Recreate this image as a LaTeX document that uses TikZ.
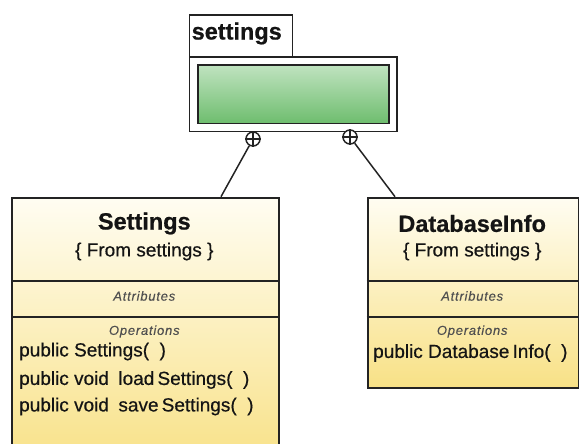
\documentclass[tikz,border=0pt]{standalone}
\usepackage{fontspec}
\setmainfont{Liberation Sans}[FakeBold=0.6]
\newfontfamily\plainfont{Liberation Sans}[FakeBold=0.5]
\newfontfamily\compfont{Liberation Sans}[LetterSpace=6.0,FakeBold=0.3]
\definecolor{clsTop}{RGB}{255,253,242}
\definecolor{clsBot}{RGB}{248,225,134}
\definecolor{pkgTop}{RGB}{192,227,192}
\definecolor{pkgBot}{RGB}{110,189,110}
\definecolor{edge}{RGB}{35,35,35}
\definecolor{ink}{RGB}{20,20,20}
\definecolor{faint}{RGB}{80,80,80}
\begin{document}
\begin{tikzpicture}[x=1pt,y=-1pt,
  box/.style={rectangle, draw=edge, line width=1.8pt, inner sep=0pt, anchor=north west},
  classbox/.style={box, top color=clsTop, bottom color=clsBot},
  title/.style={font=\fontsize{23.5}{26}\selectfont\bfseries, text=ink, inner sep=0pt},
  body/.style={font=\fontsize{19}{22}\selectfont\plainfont, text=ink, inner sep=0pt},
  section/.style={font=\fontsize{13}{15}\selectfont\compfont\itshape, text=faint, inner sep=0pt},
  member/.style={body, anchor=west},
  divider/.style={draw=edge, line width=1.8pt},
  ownership/.style={circle, draw=edge, fill=white, line width=1.5pt, minimum size=14pt, inner sep=0pt},
  link/.style={draw=edge, line width=1.5pt}]
\useasboundingbox (0,0) rectangle (579,444);
\clip (0,0) rectangle (579,444);

% package "settings"
\node[box, fill=white, minimum width=103pt, minimum height=42pt] (pkgtab) at (188.5,14) {};
\node[title, anchor=west] (pkgname) at (191.5,33.5) {settings};
\node[box, fill=white, minimum width=207.2pt, minimum height=74.7pt] (pkg) at (188.5,56) {};
\node[box, top color=pkgTop, bottom color=pkgBot,
      minimum width=191.6pt, minimum height=58.7pt] (pkgin) at (196.7,64) {};

% class Settings
\node[classbox, minimum width=266.7pt, minimum height=270pt] (clsA) at (11,196.7) {};
\draw[divider] (11,280.7) -- (277.7,280.7);
\draw[divider] (11,317) -- (277.7,317);
\node[title] (clsAname) at (144.3,223.5) {Settings};
\node[body] (clsAfrom) at (144.3,251.5) {\{ From settings \}};
\node[section] (clsAattr) at (144.3,296) {Attributes};
\node[section] (clsAops) at (144.3,331.5) {Operations};
\node[member] (clsAm1) at (19,351.5) {public\ Settings(\ \ )};
\node[member] (clsAm2) at (19,380) {public void\enspace load\,Settings(\ \ )};
\node[member] (clsAm3) at (19,406.5) {public void\enspace save\,Settings(\ \ )};

% class DatabaseInfo
\node[classbox, minimum width=211pt, minimum height=190pt] (clsB) at (366.7,196.7) {};
\draw[divider] (366.7,280.7) -- (577.7,280.7);
\draw[divider] (366.7,317) -- (577.7,317);
\node[title] (clsBname) at (472.2,223.5) {DatabaseInfo};
\node[body] (clsBfrom) at (472.2,251.5) {\{ From settings \}};
\node[section] (clsBattr) at (472.2,296) {Attributes};
\node[section] (clsBops) at (472.2,331.5) {Operations};
\node[member] (clsBm1) at (373,353) {public\ Database\,Info(\ \ )};

% containment markers and links
\coordinate (endA) at (221,196.7);
\coordinate (endB) at (395,196.7);
\node[ownership] (ownA) at (253,139) {};
\node[ownership] (ownB) at (350,137) {};
\draw[link] (ownA) -- (endA);
\draw[link] (ownB) -- (endB);
\draw[draw=edge, line width=1.3pt] (ownA.north) -- (ownA.south) (ownA.west) -- (ownA.east);
\draw[draw=edge, line width=1.3pt] (ownB.north) -- (ownB.south) (ownB.west) -- (ownB.east);
\end{tikzpicture}
\end{document}
